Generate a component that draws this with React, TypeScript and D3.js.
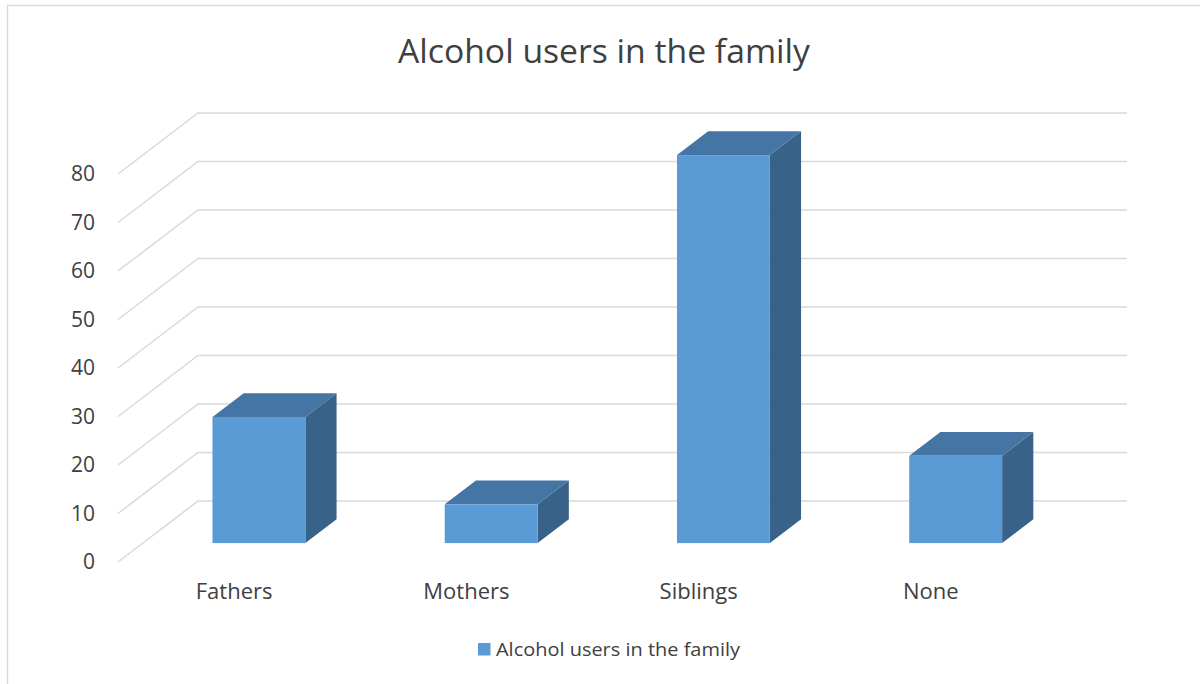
import React from "react";
import * as d3 from "d3";

const categories: string[] = ["Fathers", "Mothers", "Siblings", "None"];
const values: number[] = [26, 8, 80, 18];
const seriesName = "Alcohol users in the family";
const title = "Alcohol users in the family";
const yTicks: number[] = [0, 10, 20, 30, 40, 50, 60, 70, 80];

const W = 1200;
const H = 684;

// oblique 3D projection: depth d in [0,1] (0 = front, 1 = back wall)
const DEPTH_DX = 80;
const DEPTH_DY = -61;
const BAR_D0 = 0.31;
const BAR_D1 = 0.7;

const FONT = "'Open Sans', Carlito, Calibri, sans-serif";
const TEXT = "#404040";
const GRID = "#d9d9d9";
const FRONT = "#5b9bd5";
const TOP = "#4475a4";
const SIDE = "#386288";

export default function App() {
  const x = d3
    .scaleBand<string>()
    .domain(categories)
    .range([118, 118 + 929])
    .paddingInner(0.6)
    .paddingOuter(0.3);
  const y = d3.scaleLinear().domain([0, 80]).range([562, 174]);
  const off = (d: number) => [DEPTH_DX * d, DEPTH_DY * d];
  const [bx0, by0] = off(BAR_D0);
  const [bx1, by1] = off(BAR_D1);
  const [wx, wy] = off(1);
  const frontLeft = 118;
  const backRight = 118 + 929 + wx;

  return (
    <svg
      width={W}
      height={H}
      style={{ position: "absolute", left: 0, top: 0, background: "#fff" }}
    >
      <rect x={7.5} y={5.5} width={1300} height={800} fill="#fff" stroke="#d9d9d9" strokeWidth={1.5} />
      <text
        x={604}
        y={63}
        textAnchor="middle"
        fontFamily={FONT}
        fontSize={32}
        textLength={412}
        lengthAdjust="spacingAndGlyphs"
        fill={TEXT}
      >
        {title}
      </text>
      {/* gridlines: side wall diagonal + back wall horizontal */}
      {yTicks.map((t) => {
        const yf = y(t);
        const pts = [
          [frontLeft, yf],
          [frontLeft + wx, yf + wy],
          [backRight, yf + wy],
        ];
        return (
          <polyline
            key={"g" + t}
            points={pts.map((p) => p.join(",")).join(" ")}
            fill="none"
            stroke={GRID}
            strokeWidth={1.5}
          />
        );
      })}
      {yTicks.map((t) => (
        <text
          key={"t" + t}
          x={95}
          y={y(t)}
          dy="0.35em"
          textAnchor="end"
          fontFamily={FONT}
          fontSize={21}
          fill={TEXT}
        >
          {t}
        </text>
      ))}
      {/* bars */}
      {categories.map((c, i) => {
        const left = (x(c) as number) + bx0;
        const right = left + x.bandwidth();
        const bottom = y(0) + by0;
        const top = y(values[i]) + by0;
        const ddx = bx1 - bx0;
        const ddy = by1 - by0;
        const topFace = [
          [left, top],
          [right, top],
          [right + ddx, top + ddy],
          [left + ddx, top + ddy],
        ];
        const sideFace = [
          [right, top],
          [right + ddx, top + ddy],
          [right + ddx, bottom + ddy],
          [right, bottom],
        ];
        return (
          <g key={c}>
            <polygon points={sideFace.map((p) => p.join(",")).join(" ")} fill={SIDE} />
            <polygon points={topFace.map((p) => p.join(",")).join(" ")} fill={TOP} />
            <rect x={left} y={top} width={right - left} height={bottom - top} fill={FRONT} />
          </g>
        );
      })}
      {/* category labels */}
      {categories.map((c) => (
        <text
          key={"c" + c}
          x={(x(c) as number) + x.bandwidth() / 2}
          y={599}
          textAnchor="middle"
          fontFamily={FONT}
          fontSize={22}
          fill={TEXT}
        >
          {c}
        </text>
      ))}
      {/* legend */}
      <rect x={478} y={643} width={12.5} height={12.5} fill={FRONT} />
      <text
        x={496}
        y={656}
        fontFamily={FONT}
        fontSize={19}
        textLength={244}
        lengthAdjust="spacingAndGlyphs"
        fill={TEXT}
      >
        {seriesName}
      </text>
    </svg>
  );
}
